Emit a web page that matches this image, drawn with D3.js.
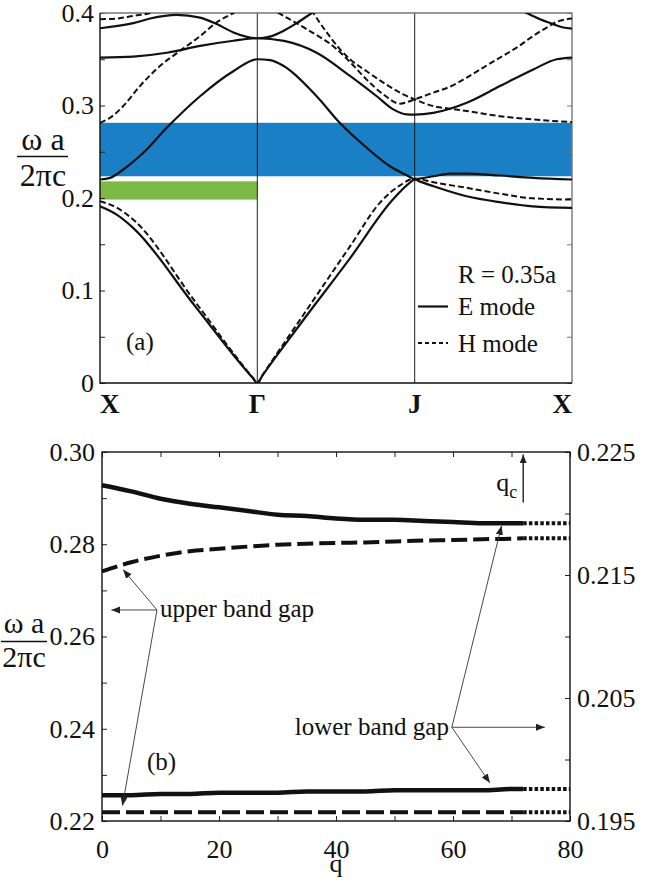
<!DOCTYPE html>
<html>
<head>
<meta charset="utf-8">
<script src="https://cdn.jsdelivr.net/npm/d3@7"></script>
<style>
    body { margin: 0; background: #fff; }
    #chart text { font-family: "Liberation Serif", "Times New Roman", serif; fill: #111; }
</style>
</head>
<body>
<div id="chart"></div>
<script>
//Colores fijos
const COLOR_AZUL = '#1b7fc6',
COLOR_VERDE = '#7aba45',
COLOR_LINEA = '#111';

/////
// Datos panel (a): k = 0 X, 1 Γ, 2 J, 3 X
/////
const puntosK = ['X', 'Γ', 'J', 'X'];
const ticksOmega = [0, 0.05, 0.1, 0.15, 0.2, 0.25, 0.3, 0.35, 0.4];
const etiquetasOmega = [0, 0.1, 0.2, 0.3, 0.4];

const bandaE1 = [[0,0.191],[0.106,0.182],[0.212,0.1675],[0.6,0.084],[0.97,0.0056],[1,0],[1.03,0.0075],[1.27,0.063],[1.59,0.135],[1.86,0.198],[1.97,0.2165],[2,0.22],[2.03,0.218],[2.12,0.2127],[2.33,0.2019],[2.55,0.1953],[2.75,0.191],[3,0.1893]];
const bandaE2 = [[0,0.22],[0.064,0.2218],[0.148,0.2308],[0.275,0.2489],[0.424,0.2759],[0.636,0.31],[0.847,0.337],[1,0.35],[1.08,0.349],[1.165,0.343],[1.377,0.31],[1.525,0.281],[1.695,0.2543],[1.843,0.2343],[1.97,0.2228],[2,0.22],[2.03,0.2209],[2.118,0.2235],[2.225,0.2264],[2.331,0.2264],[2.542,0.2243],[2.754,0.2218],[3,0.22]];
const bandaE3 = [[0,0.3518],[0.212,0.3529],[0.424,0.357],[0.636,0.3644],[0.848,0.37],[1,0.3727],[1.17,0.3698],[1.377,0.357],[1.589,0.332],[1.759,0.31],[1.864,0.2958],[1.949,0.2904],[2,0.2902],[2.118,0.292],[2.225,0.2965],[2.331,0.303],[2.542,0.321],[2.754,0.339],[2.903,0.35],[3,0.3518]];
const bandaE4 = [[0,0.3835],[0.212,0.389],[0.318,0.394],[0.487,0.398],[0.636,0.395],[0.742,0.388],[0.848,0.379],[1,0.3727],[1.08,0.3745],[1.165,0.3806],[1.25,0.389],[1.346,0.4],[1.6,0.43],[2,0.45],[2.4,0.43],[2.712,0.4],[2.797,0.3933],[2.881,0.388],[2.945,0.3843],[3,0.3831]];

const bandaH1 = [[0,0.1965],[0.106,0.1896],[0.212,0.1766],[0.6,0.089],[0.97,0.006],[1,0],[1.03,0.0078],[1.27,0.068],[1.59,0.148],[1.78,0.195],[1.91,0.214],[2,0.221],[2.12,0.217],[2.33,0.211],[2.55,0.2044],[2.75,0.1997],[3,0.1983]];
const bandaH2 = [[0,0.2813],[0.064,0.2868],[0.148,0.2994],[0.254,0.321],[0.381,0.3427],[0.508,0.359],[0.636,0.375],[0.742,0.39],[0.848,0.4],[1,0.413],[1.134,0.4],[1.314,0.3825],[1.504,0.361],[1.589,0.347],[1.695,0.328],[1.801,0.312],[1.907,0.302],[2,0.3066],[2.118,0.3139],[2.225,0.3204],[2.331,0.3301],[2.436,0.341],[2.542,0.3518],[2.648,0.3626],[2.754,0.3752],[2.839,0.3843],[2.903,0.3904],[3,0.394]];
const bandaH3 = [[0,0.3933],[0.106,0.394],[0.212,0.3969],[0.318,0.4],[0.6,0.425],[1,0.46],[1.2,0.445],[1.356,0.4],[1.441,0.379],[1.525,0.361],[1.589,0.35],[1.695,0.337],[1.801,0.3247],[1.928,0.312],[2,0.3066],[2.118,0.2994],[2.225,0.2965],[2.331,0.294],[2.542,0.2885],[2.754,0.2849],[3,0.282]];

const bandasE = [bandaE1, bandaE2, bandaE3, bandaE4];
const bandasH = [bandaH1, bandaH2, bandaH3];

//Huecos: azul en toda la zona, verde solo en X-Γ
const gapAzul = [0.2235, 0.2813];
const gapVerde = [0.1983, 0.218];
const gapVerdeK = [0, 1];

/////
// Datos panel (b)
/////
const qVals = [0,5,10,15,20,25,30,35,40,45,50,55,60,65,70,72];
//banda superior (eje izquierdo, discontinuas)
const gapSupArriba = [0.2741,0.2761,0.2775,0.2785,0.2790,0.2795,0.2799,0.2801,0.2803,0.2804,0.2806,0.2808,0.2809,0.2811,0.2812,0.2813];
const gapSupAbajo = [0.2219,0.2219,0.2219,0.2219,0.2219,0.2219,0.2219,0.2219,0.2219,0.2219,0.2219,0.2219,0.2219,0.2219,0.2219,0.2219];
//banda inferior (eje derecho, continuas)
const gapInfArriba = [0.2223,0.2218,0.2212,0.2208,0.2205,0.2202,0.2199,0.2198,0.2196,0.2195,0.2195,0.2194,0.2193,0.2192,0.2192,0.2192];
const gapInfAbajo = [0.1971,0.1971,0.1972,0.1972,0.1973,0.1973,0.1973,0.1974,0.1974,0.1974,0.1975,0.1975,0.1975,0.1975,0.1976,0.1976];
const qc = 72, qMax = 80;

const ticksQ = [0,10,20,30,40,50,60,70,80];
const etiquetasQ = [0,20,40,60,80];
const ticksIzq = [0.22,0.23,0.24,0.25,0.26,0.27,0.28,0.29,0.30];
const etiquetasIzq = [0.22,0.24,0.26,0.28,0.30];
const ticksDcha = [0.195,0.2,0.205,0.21,0.215,0.22,0.225];
const etiquetasDcha = [0.195,0.205,0.215,0.225];

/////
// SVG
/////
let svg = d3.select('#chart')
    .append('svg')
        .attr('width', 660)
        .attr('height', 883);

let defs = svg.append('defs');
defs.append('marker')
    .attr('id', 'flecha')
    .attr('viewBox', '0 0 10 10')
    .attr('refX', 10).attr('refY', 5)
    .attr('markerWidth', 9).attr('markerHeight', 9)
    .attr('markerUnits', 'userSpaceOnUse')
    .attr('orient', 'auto')
    .append('path')
        .attr('d', 'M0,1 L10,5 L0,9 Z')
        .attr('fill', '#222');

function estiloEje(g, size) {
    g.select('.domain').remove();
    g.selectAll('.tick line').attr('stroke', '#222');
    g.selectAll('text')
        .attr('font-size', size)
        .attr('font-family', '"Liberation Serif", "Times New Roman", serif')
        .attr('fill', '#111');
}

function fraccion(g, cx, yNum, yBarra, yDen, x0, x1, size) {
    g.append('text').attr('x', cx).attr('y', yNum).attr('text-anchor', 'middle').attr('font-size', size).text('ω a');
    g.append('line').attr('x1', x0).attr('x2', x1).attr('y1', yBarra).attr('y2', yBarra).attr('stroke', '#111').attr('stroke-width', 1.6);
    g.append('text').attr('x', cx).attr('y', yDen).attr('text-anchor', 'middle').attr('font-size', size).text('2πc');
}

/////
// Panel (a)
/////
let xT = d3.scaleLinear().domain([0, 3]).range([100, 572]);
let yT = d3.scaleLinear().domain([0, 0.4]).range([383, 13]);

let gA = svg.append('g');

defs.append('clipPath').attr('id', 'clipA')
    .append('rect')
        .attr('x', xT(0)).attr('y', yT(0.4))
        .attr('width', xT(3) - xT(0)).attr('height', yT(0) - yT(0.4));

//Huecos
gA.append('rect')
    .attr('x', xT(0)).attr('width', xT(3) - xT(0))
    .attr('y', yT(gapAzul[1])).attr('height', yT(gapAzul[0]) - yT(gapAzul[1]))
    .attr('fill', COLOR_AZUL);

gA.append('rect')
    .attr('x', xT(gapVerdeK[0])).attr('width', xT(gapVerdeK[1]) - xT(gapVerdeK[0]))
    .attr('y', yT(gapVerde[1])).attr('height', yT(gapVerde[0]) - yT(gapVerde[1]))
    .attr('fill', COLOR_VERDE);

//Líneas verticales en Γ y J
gA.selectAll('.vert')
    .data([1, 2])
    .enter()
    .append('line')
    .attr('x1', d => xT(d)).attr('x2', d => xT(d))
    .attr('y1', yT(0)).attr('y2', yT(0.4))
    .attr('stroke', '#111').attr('stroke-width', 1.1).attr('stroke-opacity', 0.85);

//Ejes
gA.append('g')
    .attr('transform', 'translate(' + xT(0) + ',0)')
    .call(d3.axisLeft(yT).tickValues(ticksOmega).tickSize(-5).tickPadding(6)
        .tickFormat(d => etiquetasOmega.some(v => Math.abs(v - d) < 1e-9) ? d3.format('')(+d.toFixed(2)) : ''))
    .call(g => estiloEje(g, 26));

gA.append('g')
    .attr('transform', 'translate(' + xT(3) + ',0)')
    .call(d3.axisRight(yT).tickValues(ticksOmega).tickSize(-5).tickFormat(''))
    .call(g => estiloEje(g, 26))
    .call(g => g.selectAll('.tick line').attr('stroke', '#777'));

//Marco
gA.append('path')
    .attr('d', 'M' + xT(0) + ',' + yT(0.4) + 'H' + xT(3) + 'V' + yT(0))
    .attr('fill', 'none').attr('stroke', '#777').attr('stroke-width', 1.4);
gA.append('path')
    .attr('d', 'M' + xT(0) + ',' + yT(0.4) + 'V' + yT(0) + 'H' + xT(3))
    .attr('fill', 'none').attr('stroke', '#111').attr('stroke-width', 1.4);

//Bandas
let lineaA = d3.line()
    .x(d => xT(d[0]))
    .y(d => yT(d[1]))
    .curve(d3.curveMonotoneX);

let gBandas = gA.append('g').attr('clip-path', 'url(#clipA)');

gBandas.selectAll('.bandaE')
    .data(bandasE)
    .enter()
    .append('path')
    .attr('class', 'bandaE')
    .attr('d', lineaA)
    .attr('fill', 'none')
    .attr('stroke', COLOR_LINEA)
    .attr('stroke-width', 2.2);

gBandas.selectAll('.bandaH')
    .data(bandasH)
    .enter()
    .append('path')
    .attr('class', 'bandaH')
    .attr('d', lineaA)
    .attr('fill', 'none')
    .attr('stroke', COLOR_LINEA)
    .attr('stroke-width', 2)
    .attr('stroke-dasharray', '6,3');

//Etiquetas X Γ J X
gA.selectAll('.puntoK')
    .data(puntosK)
    .enter()
    .append('text')
    .attr('x', (d, i) => xT(i))
    .attr('y', 413)
    .attr('text-anchor', (d, i) => i == 0 ? 'start' : (i == 3 ? 'end' : 'middle'))
    .attr('font-size', 27)
    .attr('font-weight', 700)
    .text(d => d);

fraccion(gA, 43, 150, 156.5, 186, 17, 68, 32);

gA.append('text').attr('x', 126).attr('y', 350).attr('font-size', 25).text('(a)');

//Leyenda
gA.append('text').attr('x', 458).attr('y', 283).attr('font-size', 25).text('R = 0.35a');
gA.append('line').attr('x1', 418).attr('x2', 448).attr('y1', 306.5).attr('y2', 306.5)
    .attr('stroke', COLOR_LINEA).attr('stroke-width', 2.2);
gA.append('text').attr('x', 458).attr('y', 315).attr('font-size', 25).text('E mode');
gA.append('line').attr('x1', 418).attr('x2', 448).attr('y1', 343).attr('y2', 343)
    .attr('stroke', COLOR_LINEA).attr('stroke-width', 2).attr('stroke-dasharray', '4,3');
gA.append('text').attr('x', 458).attr('y', 351.5).attr('font-size', 25).text('H mode');

/////
// Panel (b)
/////
let xB = d3.scaleLinear().domain([0, qMax]).range([102, 570]);
let yL = d3.scaleLinear().domain([0.22, 0.30]).range([821, 452]);
let yR = d3.scaleLinear().domain([0.195, 0.225]).range([821, 452]);

let gB = svg.append('g');

gB.append('g')
    .attr('transform', 'translate(0,' + yL(0.22) + ')')
    .call(d3.axisBottom(xB).tickValues(ticksQ).tickSize(-5).tickPadding(19)
        .tickFormat(d => etiquetasQ.includes(d) ? d : ''))
    .call(g => estiloEje(g, 26));

gB.append('g')
    .attr('transform', 'translate(0,' + yL(0.30) + ')')
    .call(d3.axisTop(xB).tickValues(ticksQ).tickSize(-5).tickFormat(''))
    .call(g => estiloEje(g, 26));

gB.append('g')
    .attr('transform', 'translate(' + xB(0) + ',0)')
    .call(d3.axisLeft(yL).tickValues(ticksIzq).tickSize(-5).tickPadding(7)
        .tickFormat(d => etiquetasIzq.some(v => Math.abs(v - d) < 1e-9) ? d3.format('.2f')(d) : ''))
    .call(g => estiloEje(g, 26));

gB.append('g')
    .attr('transform', 'translate(' + xB(qMax) + ',0)')
    .call(d3.axisRight(yR).tickValues(ticksDcha).tickSize(-5).tickPadding(7)
        .tickFormat(d => etiquetasDcha.some(v => Math.abs(v - d) < 1e-9) ? d3.format('.3f')(d) : ''))
    .call(g => estiloEje(g, 26));

gB.append('rect')
    .attr('x', xB(0)).attr('y', yL(0.30))
    .attr('width', xB(qMax) - xB(0)).attr('height', yL(0.22) - yL(0.30))
    .attr('fill', 'none').attr('stroke', '#111').attr('stroke-width', 1.4);

//Curvas
function serie(valores) {
    return qVals.map((q, i) => [q, valores[i]]);
}

let lineaIzq = d3.line().x(d => xB(d[0])).y(d => yL(d[1])).curve(d3.curveMonotoneX);
let lineaDcha = d3.line().x(d => xB(d[0])).y(d => yR(d[1])).curve(d3.curveMonotoneX);

let curvasB = [
    { datos: serie(gapSupArriba), linea: lineaIzq, trazo: '16,6', ancho: 4 },
    { datos: serie(gapSupAbajo), linea: lineaIzq, trazo: '18,6', ancho: 4 },
    { datos: serie(gapInfArriba), linea: lineaDcha, trazo: null, ancho: 4.5 },
    { datos: serie(gapInfAbajo), linea: lineaDcha, trazo: null, ancho: 4.5 }
];

gB.selectAll('.curvaB')
    .data(curvasB)
    .enter()
    .append('path')
    .attr('class', 'curvaB')
    .attr('d', d => d.linea(d.datos))
    .attr('fill', 'none')
    .attr('stroke', COLOR_LINEA)
    .attr('stroke-width', d => d.ancho)
    .attr('stroke-dasharray', d => d.trazo);

//Prolongación punteada a partir de qc
gB.selectAll('.puntos')
    .data(curvasB)
    .enter()
    .append('path')
    .attr('class', 'puntos')
    .attr('d', d => {
        let ultimo = d.datos[d.datos.length - 1];
        return d.linea([[qc, ultimo[1]], [qMax, ultimo[1]]]);
    })
    .attr('fill', 'none')
    .attr('stroke', COLOR_LINEA)
    .attr('stroke-width', 4)
    .attr('stroke-dasharray', '3.5,2.2');

//qc
gB.append('line')
    .attr('x1', xB(qc)).attr('x2', xB(qc))
    .attr('y1', yR(0.2209)).attr('y2', yR(0.2248))
    .attr('stroke', '#111').attr('stroke-width', 1.3)
    .attr('marker-end', 'url(#flecha)');
let tqc = gB.append('text').attr('x', xB(qc) - 27).attr('y', yR(0.2218)).attr('font-size', 26);
tqc.append('tspan').text('q');
tqc.append('tspan').attr('font-size', 18).attr('dy', 7).text('c');

//Anotación banda superior
let origenSup = [xB(9.4), yL(0.26575)];
let destinosSup = [[xB(1.6), yL(0.26575)], [xB(3.6), yL(0.2745)], [xB(3.5), yL(0.2233)]];
gB.selectAll('.flechaSup')
    .data(destinosSup)
    .enter()
    .append('line')
    .attr('x1', origenSup[0]).attr('y1', origenSup[1])
    .attr('x2', d => d[0]).attr('y2', d => d[1])
    .attr('stroke', '#333').attr('stroke-width', 0.9)
    .attr('marker-end', 'url(#flecha)');
gB.append('text').attr('x', xB(9.9)).attr('y', yL(0.2642)).attr('font-size', 25).text('upper band gap');

//Anotación banda inferior
let origenInf = [xB(59.8), yR(0.20262)];
let destinosInf = [[xB(75.7), yR(0.20262)], [xB(68.3), yL(0.2840)], [xB(66.3), yR(0.1981)]];
gB.selectAll('.flechaInf')
    .data(destinosInf)
    .enter()
    .append('line')
    .attr('x1', origenInf[0]).attr('y1', origenInf[1])
    .attr('x2', d => d[0]).attr('y2', d => d[1])
    .attr('stroke', '#333').attr('stroke-width', 0.9)
    .attr('marker-end', 'url(#flecha)');
gB.append('text').attr('x', xB(59.3)).attr('y', yR(0.20199)).attr('text-anchor', 'end').attr('font-size', 25).text('lower band gap');

gB.append('text').attr('x', xB(7.7)).attr('y', yL(0.2311)).attr('font-size', 25).text('(b)');
gB.append('text').attr('x', xB(40)).attr('y', 872).attr('text-anchor', 'middle').attr('font-size', 26).text('q');

fraccion(gB, 24, 633, 641.5, 667, 1, 47, 30);
</script>
</body>
</html>
